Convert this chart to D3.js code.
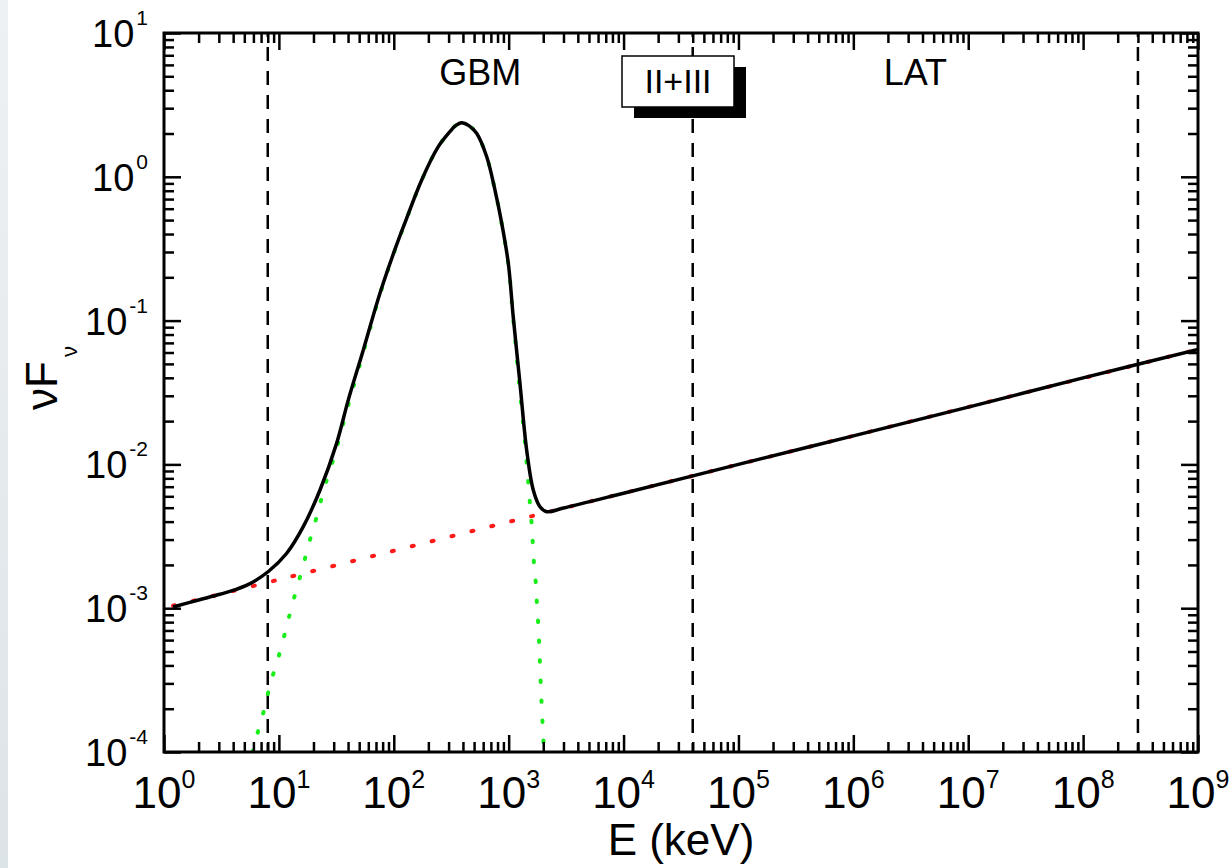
<!DOCTYPE html>
<html>
<head>
<meta charset="utf-8">
<title>nuFnu spectrum</title>
<script src="https://d3js.org/d3.v7.min.js"></script>
<style>
	body { margin: 0; background: #fff; }
	svg text { font-family: "Liberation Sans", Arial, sans-serif; fill: #000; }
	.axis path { display: none; }
	.axis line { stroke: #000; stroke-width: 2.5; }
</style>
</head>
<body>
<script>
// values: [E (keV), nuFnu]
var totalCurve = [
	[1.2, 1.02e-3], [2, 1.14e-3], [3.07, 1.25e-3], [4.0, 1.33e-3], [5.5, 1.47e-3],
	[8.1, 1.80e-3], [11.7, 2.41e-3], [16.3, 3.69e-3], [22.8, 6.64e-3], [31.8, 0.0140],
	[40.2, 0.0281], [54.3, 0.0625], [75.8, 0.155], [102, 0.310], [125, 0.478],
	[175, 0.951], [244, 1.62], [308, 2.06], [345, 2.27], [390, 2.38], [450, 2.27],
	[526, 2.01], [644, 1.38], [760, 0.809], [869, 0.478], [993, 0.250], [1096, 0.106],
	[1254, 0.0366], [1434, 0.0126], [1637, 6.64e-3], [1872, 5.08e-3], [2142, 4.69e-3],
	[3000, 4.97e-3], [1e4, 6.3e-3], [1e5, 0.010], [1e6, 0.0158], [1e7, 0.025],
	[1e8, 0.040], [1e9, 0.063]
];

var powerLaw = [
	[1.2, 1.04e-3], [10, 1.58e-3], [100, 2.51e-3], [1000, 3.98e-3], [1e4, 6.31e-3],
	[1e5, 0.010], [1e6, 0.0158], [1e7, 0.0251], [1e8, 0.0398], [1e9, 0.063]
];

var thermal = [
	[5.9, 1.0e-4], [6.11, 1.11e-4], [6.75, 1.50e-4], [7.57, 2.07e-4], [8.26, 2.80e-4],
	[9.25, 3.82e-4], [10.4, 5.20e-4], [11.5, 7.13e-4], [12.7, 9.70e-4], [14.1, 1.32e-3],
	[15.8, 1.82e-3], [17.5, 2.47e-3], [19.5, 3.40e-3], [22.0, 4.69e-3], [24.3, 6.46e-3],
	[30.8, 0.0119], [40.2, 0.026], [54.3, 0.060], [75.8, 0.152], [102, 0.307],
	[125, 0.475], [175, 0.948], [244, 1.62], [308, 2.06], [345, 2.27], [390, 2.38],
	[450, 2.27], [526, 2.01], [644, 1.38], [760, 0.806], [869, 0.475], [993, 0.246],
	[1096, 0.102], [1254, 0.0324], [1387, 0.0140], [1483, 7.39e-3], [1532, 5.36e-3],
	[1585, 3.89e-3], [1618, 2.93e-3], [1660, 2.07e-3], [1718, 1.53e-3], [1754, 1.14e-3],
	[1800, 8.28e-4], [1836, 6.08e-4], [1928, 2.3e-4], [2030, 1.0e-4]
];

// instrument boundaries (keV)
var boundaries = [8, 4e4, 3e8];
var bandLabels = [
	{ text: "GBM", from: 8, to: 4e4 },
	{ text: "LAT", from: 4e4, to: 3e8 }
];
var legendText = "II+III";

var xDecades = [1, 10, 100, 1e3, 1e4, 1e5, 1e6, 1e7, 1e8, 1e9];
var xExponents = ["0", "1", "2", "3", "4", "5", "6", "7", "8", "9"];
var yDecades = [1e-4, 1e-3, 1e-2, 1e-1, 1, 10];
var yExponents = ["-4", "-3", "-2", "-1", "0", "1"];

var margin = { top: 33, right: 34, bottom: 116, left: 164 };
var outer_width = 1232, outer_height = 868;
var w = outer_width - margin.left - margin.right;
var h = outer_height - margin.top - margin.bottom;

var svg = d3.select("body").append("svg")
	.attr("width", outer_width)
	.attr("height", outer_height);

var defs = svg.append("defs");
var grad = defs.append("linearGradient").attr("id", "edge")
	.attr("x1", 0).attr("y1", 0).attr("x2", 0).attr("y2", 1);
grad.append("stop").attr("offset", "0%").attr("stop-color", "#eef1f3");
grad.append("stop").attr("offset", "100%").attr("stop-color", "#dde4e8");
defs.append("clipPath").attr("id", "plotclip")
	.append("rect").attr("width", w).attr("height", h);

// greyish strip on the left border of the picture
svg.append("rect").attr("x", 0).attr("y", 0).attr("width", 8).attr("height", outer_height)
	.style("fill", "url(#edge)");

var g = svg.append("g")
	.attr("transform", "translate(" + margin.left + "," + margin.top + ")");

var x = d3.scaleLog().domain([1, 1e9]).range([0, w]);
var y = d3.scaleLog().domain([1e-4, 10]).range([h, 0]);

// dashed boundaries
g.selectAll(".bound").data(boundaries).join("line")
	.attr("class", "bound")
	.attr("x1", d => x(d)).attr("x2", d => x(d))
	.attr("y1", 0).attr("y2", h)
	.style("stroke", "#000")
	.style("stroke-width", 2.5)
	.style("stroke-dasharray", "14 10")
	.style("stroke-dashoffset", 10);

var line = d3.line()
	.x(d => x(d[0]))
	.y(d => y(d[1]))
	.curve(d3.curveCatmullRom.alpha(0.5));

var curves = g.append("g").attr("clip-path", "url(#plotclip)");

curves.append("path").datum(powerLaw)
	.attr("d", line)
	.style("fill", "none")
	.style("stroke", "#ff1a1a")
	.style("stroke-width", 4)
	.style("stroke-linecap", "round")
	.style("stroke-dasharray", "2 18.5");

curves.append("path").datum(thermal)
	.attr("d", line)
	.style("fill", "none")
	.style("stroke", "#1aee1a")
	.style("stroke-width", 4)
	.style("stroke-linecap", "round")
	.style("stroke-dasharray", "1.5 18.5");

curves.append("path").datum(totalCurve)
	.attr("d", line)
	.style("fill", "none")
	.style("stroke", "#000")
	.style("stroke-width", 3.5)
	.style("stroke-linejoin", "round");

// ticks on all four sides, pointing inward
var xMinor = x.ticks().filter(d => xDecades.indexOf(d) < 0);
var yMinor = y.ticks().filter(d => yDecades.map(v => +v.toPrecision(3)).indexOf(+d.toPrecision(3)) < 0);

function side(axis, vals, size, tr) {
	g.append("g").attr("class", "axis")
		.attr("transform", tr)
		.call(axis.tickValues(vals).tickSize(-size).tickFormat(""));
}
side(d3.axisBottom(x), xDecades, 17, "translate(0," + h + ")");
side(d3.axisBottom(x), xMinor, 10, "translate(0," + h + ")");
side(d3.axisTop(x), xDecades, 17, "translate(0,0)");
side(d3.axisTop(x), xMinor, 10, "translate(0,0)");
side(d3.axisLeft(y), yDecades, 17, "translate(0,0)");
side(d3.axisLeft(y), yMinor, 10, "translate(0,0)");
side(d3.axisRight(y), yDecades, 17, "translate(" + w + ",0)");
side(d3.axisRight(y), yMinor, 10, "translate(" + w + ",0)");

// frame
g.append("rect").attr("width", w).attr("height", h)
	.style("fill", "none").style("stroke", "#000").style("stroke-width", 3);

// tick labels
g.selectAll(".xl").data(xDecades).join("text")
	.attr("class", "xl")
	.attr("x", d => x(d)).attr("y", h + 56)
	.attr("text-anchor", "middle")
	.style("font-size", "44px")
	.each(function (d, i) {
		var t = d3.select(this);
		t.append("tspan").text("10");
		t.append("tspan").attr("dy", -20).style("font-size", "25px").text(xExponents[i]);
	});

g.selectAll(".yl").data(yDecades).join("text")
	.attr("class", "yl")
	.attr("x", -16).attr("y", d => y(d) + 14)
	.attr("text-anchor", "end")
	.style("font-size", "38px")
	.each(function (d, i) {
		var t = d3.select(this);
		t.append("tspan").text("10");
		t.append("tspan").attr("dx", 2).attr("dy", -22).style("font-size", "21px").text(yExponents[i]);
	});

// axis titles
svg.append("text")
	.attr("x", margin.left + w / 2).attr("y", 855)
	.attr("text-anchor", "middle")
	.style("font-size", "44px")
	.text("E (keV)");

var yt = svg.append("text")
	.attr("transform", "translate(57,410) rotate(-90)")
	.style("font-size", "44px");
yt.append("tspan").text("\u03bdF");
yt.append("tspan").attr("dx", 4).attr("dy", 20).style("font-size", "22px").text("\u03bd");

// band labels
g.selectAll(".band").data(bandLabels).join("text")
	.attr("class", "band")
	.attr("x", d => (x(d.from) + x(d.to)) / 2)
	.attr("y", 52)
	.attr("text-anchor", "middle")
	.style("font-size", "36px")
	.text(d => d.text);

// legend box with drop shadow
var lg = svg.append("g").attr("transform", "translate(622,56)");
lg.append("rect").attr("x", 12).attr("y", 11).attr("width", 112).attr("height", 51)
	.style("fill", "#000");
lg.append("rect").attr("width", 112).attr("height", 51)
	.style("fill", "#fff").style("stroke", "#000").style("stroke-width", 1.5);
lg.append("text").attr("x", 56).attr("y", 37)
	.attr("text-anchor", "middle")
	.style("font-size", "34px")
	.text(legendText);
</script>
</body>
</html>
